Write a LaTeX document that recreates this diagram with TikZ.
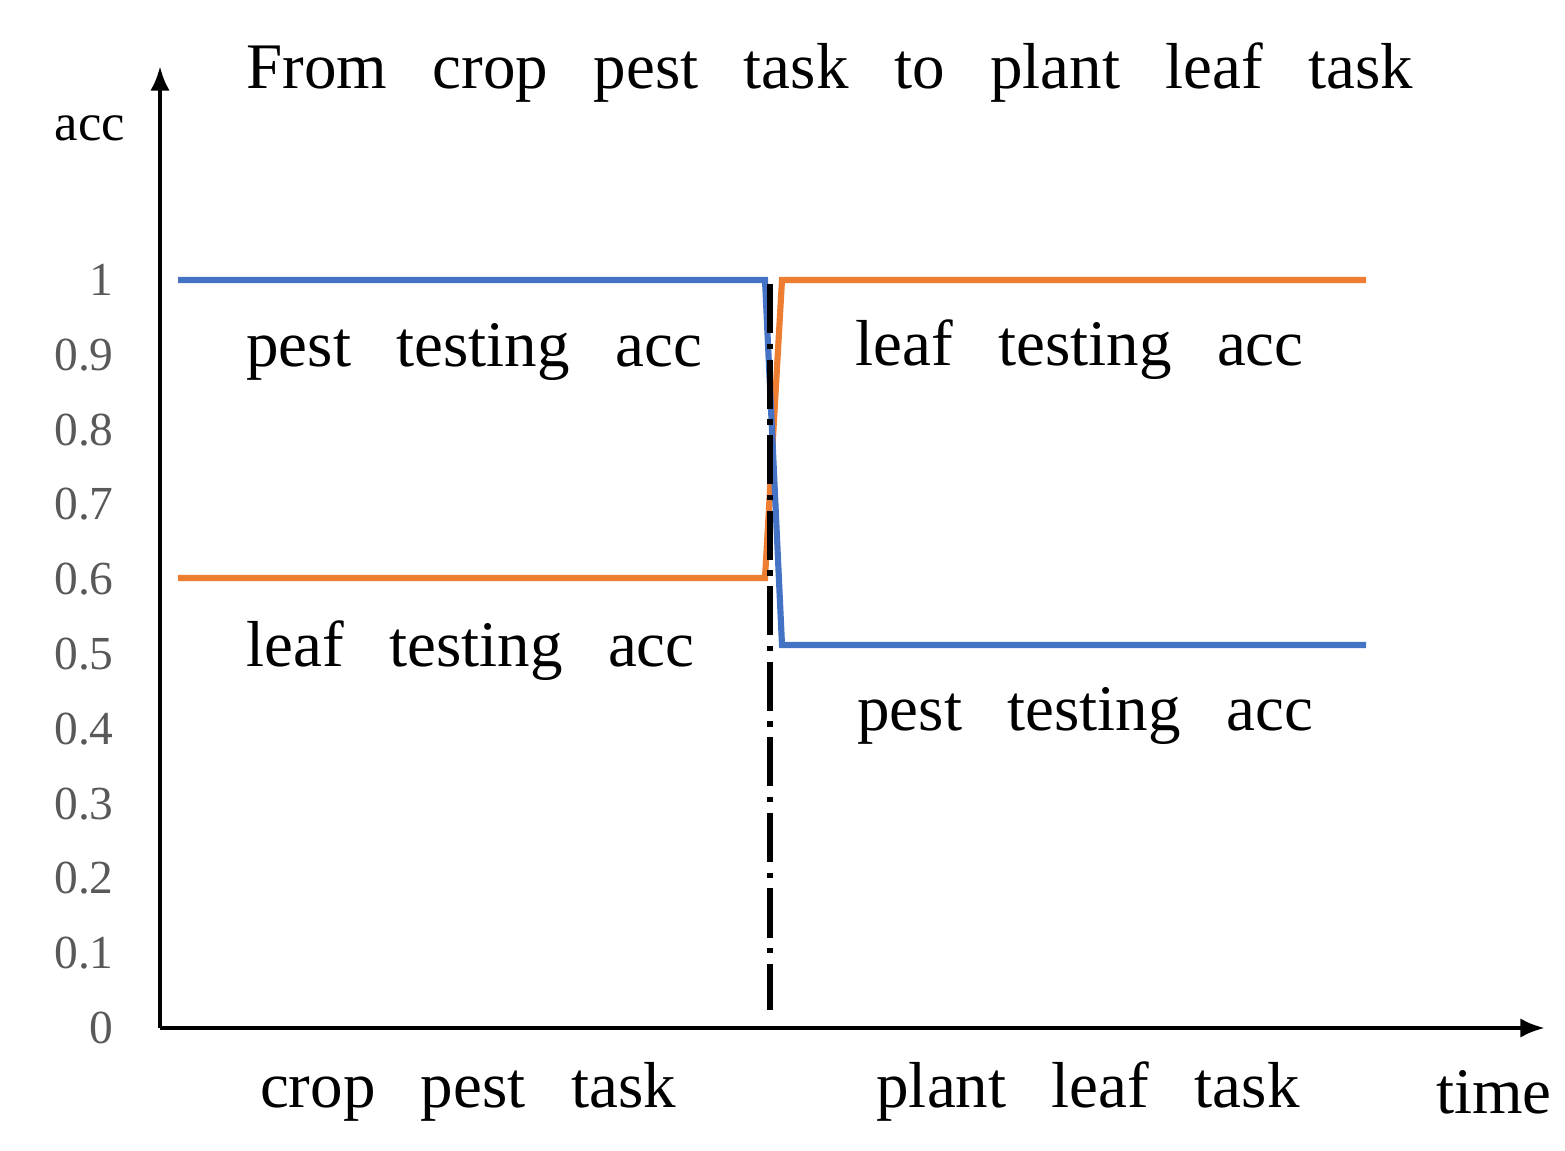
\documentclass[tikz,border=0pt]{standalone}
\usepackage{fontspec}
\setmainfont{Liberation Serif}
\usetikzlibrary{arrows.meta}
\newcommand\bigwidefont{\fontsize{37}{40}\selectfont\spaceskip=0.7em\relax}
\begin{document}
\begin{tikzpicture}[x=0.02cm,y=-0.02cm]
\definecolor{bl}{RGB}{68,114,196}
\definecolor{org}{RGB}{237,125,49}
\tikzset{big/.style={font=\bigwidefont,inner sep=0},
 tick/.style={font=\fontsize{27}{30}\selectfont,text=black!65,anchor=east,inner sep=0},
 curve/.style={line width=3.5pt},
 ax/.style={line width=2.5pt,-{Latex[length=14pt,width=11pt]}}}
\useasboundingbox (0,0) rectangle (1565,1151);
\coordinate (o) at (160,1028);
\coordinate (ytop) at (160,66);
\coordinate (xend) at (1545,1028);
\draw[ax] (o) -- (ytop);
\draw[ax] (o) -- (xend);
\foreach \v [count=\i from 0] in {0,0.1,0.2,0.3,0.4,0.5,0.6,0.7,0.8,0.9,1}
  \node[tick] (t\i) at (114,1028-74.8*\i) {\v};
\coordinate (b1) at (178,280); \coordinate (b2) at (765,280);
\coordinate (b3) at (782,645); \coordinate (b4) at (1366,645);
\coordinate (o1) at (178,578); \coordinate (o2) at (765,578);
\coordinate (o3) at (782,280); \coordinate (o4) at (1366,280);
\draw[curve,org] (o1) -- (o2) -- (o3) -- (o4);
\draw[curve,bl] (b1) -- (b2) -- (b3) -- (b4);
\coordinate (d1) at (770,284); \coordinate (d2) at (770,1010);
\draw[line width=3.5pt,dash pattern=on 28pt off 6pt on 3pt off 6pt] (d1) -- (d2);
\node[big,anchor=west] (title) at (246,73) {From crop pest task to plant leaf task};
\node[font=\fontsize{30}{32}\selectfont,inner sep=0] (acc) at (90,128) {acc};
\node[big,anchor=west] (l1) at (246,352) {pest testing acc};
\node[big,anchor=west] (l2) at (246,651) {leaf testing acc};
\node[big,anchor=west] (l3) at (855,350) {leaf testing acc};
\node[big,anchor=west] (l4) at (857,716) {pest testing acc};
\node[big] (x1) at (468,1092) {crop pest task};
\node[big] (x2) at (1088,1092) {plant leaf task};
\node[big] (x3) at (1494,1092) {time};
\end{tikzpicture}
\end{document}
